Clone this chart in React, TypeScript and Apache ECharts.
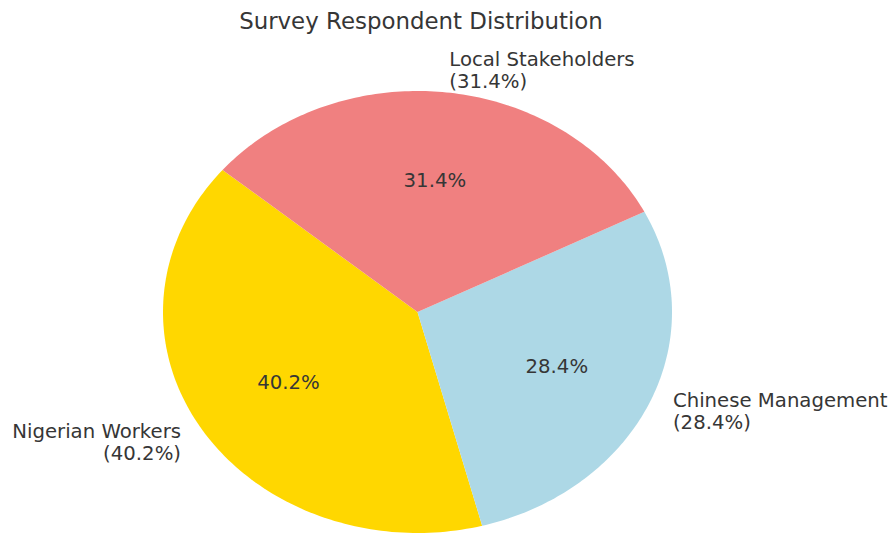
import React, { useEffect, useRef } from "react";
import * as echarts from "echarts";

const categories = ["Nigerian Workers", "Chinese Management", "Local Stakeholders"];
const values = [40.2, 28.4, 31.4];
const colors = ["#FFD700", "#ADD8E6", "#F08080"];
const titleText = "Survey Respondent Distribution";

const START_ANGLE = 140;
const FONT = "'DejaVu Sans', sans-serif";
const TEXT_COLOR = "#363636";

export default function App() {
  const ref = useRef<HTMLDivElement>(null);
  useEffect(() => {
    if (!ref.current) return;
    const chart = echarts.init(ref.current, undefined, { renderer: "svg" });
    const total = values.reduce((a, b) => a + b, 0);
    const cum: number[] = [];
    values.reduce((acc, v, i) => {
      cum[i] = acc;
      return acc + v;
    }, 0);

    const renderItem = (params: any, api: any) => {
      const i = params.dataIndex;
      const v = api.value(0);
      const W = api.getWidth();
      const H = api.getHeight();
      const cx = W * (417.5 / 890);
      const cy = H * (312 / 535);
      const rx = 254.5;
      const ry = 221;
      const a0 = START_ANGLE + (360 * cum[i]) / total;
      const a1 = a0 + (360 * v) / total;
      const pts: number[][] = [[cx, cy]];
      const n = 120;
      for (let k = 0; k <= n; k++) {
        const a = ((a0 + ((a1 - a0) * k) / n) * Math.PI) / 180;
        pts.push([cx + rx * Math.cos(a), cy - ry * Math.sin(a)]);
      }
      const mid = (((a0 + a1) / 2) * Math.PI) / 180;
      const pct = ((v / total) * 100).toFixed(1) + "%";
      const c = Math.cos(mid);
      const s = Math.sin(mid);
      return {
        type: "group",
        children: [
          {
            type: "polygon",
            shape: { points: pts },
            style: { fill: colors[i], stroke: "none" },
          },
          {
            type: "text",
            x: cx + 0.6 * rx * c,
            y: cy - 0.6 * ry * s,
            style: {
              text: pct,
              fill: TEXT_COLOR,
              fontSize: 19.7,
              fontFamily: FONT,
              align: "center",
              verticalAlign: "middle",
            },
          },
          {
            type: "text",
            x: cx + 1.1 * rx * c,
            y: cy - 1.1 * ry * s,
            style: {
              text: categories[i] + "\n(" + pct + ")",
              fill: TEXT_COLOR,
              fontSize: 19.7,
              lineHeight: 22,
              fontFamily: FONT,
              align: c >= 0 ? "left" : "right",
              verticalAlign: "middle",
            },
          },
        ],
      };
    };

    chart.setOption({
      animation: false,
      backgroundColor: "#ffffff",
      title: {
        text: titleText,
        left: 416,
        top: 4,
        textAlign: "center",
        textStyle: {
          fontSize: 22.9,
          fontWeight: "normal",
          color: TEXT_COLOR,
          fontFamily: FONT,
        },
      },
      series: [
        {
          type: "custom",
          coordinateSystem: "none",
          renderItem,
          data: values.map((v, i) => ({ name: categories[i], value: [v] })),
        },
      ],
    });
    return () => chart.dispose();
  }, []);
  return (
    <div
      ref={ref}
      style={{ position: "fixed", left: 0, top: 0, width: 890, height: 535 }}
    />
  );
}
